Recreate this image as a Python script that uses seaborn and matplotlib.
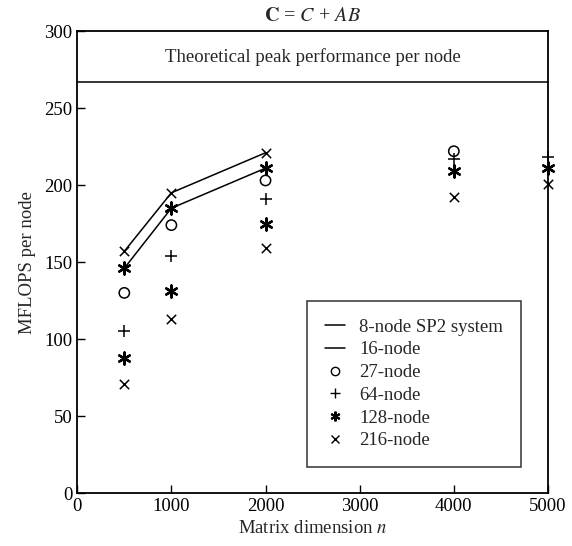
import pandas as pd
import matplotlib.pyplot as plt
import seaborn as sns
from matplotlib.lines import Line2D

# values
n_line = [500, 1000, 2000]
node8 = [157, 195, 221]
node16 = [146, 185, 211]

n_27 = [500, 1000, 2000, 4000]
node27 = [130, 174, 203, 222]
n_pts = [500, 1000, 2000, 4000, 5000]
node64 = [105, 154, 191, 217, 218]
node128 = [88, 131, 175, 209, 211]
node216 = [71, 113, 159, 192, 201]

peak = 267

sns.set_theme(style="ticks")
plt.rcParams["font.family"] = ["Liberation Serif", "DejaVu Serif"]
plt.rcParams["mathtext.fontset"] = "stix"
plt.rcParams["font.size"] = 13

asterisk = (6, 2, 0)

fig = plt.figure(figsize=(5.72, 5.46), dpi=100)
ax = fig.add_axes([0.135, 0.097, 0.823, 0.846])

# ── the two lines (8-node and 16-node) ─────────────────────
lines = pd.DataFrame({"n": n_line * 2,
                      "mflops": node8 + node16,
                      "system": ["8-node"] * 3 + ["16-node"] * 3})
sns.lineplot(data=lines, x="n", y="mflops", units="system", estimator=None,
             color="black", linewidth=1.1, ax=ax, legend=False)
sns.scatterplot(x=n_line, y=node8, marker="x", color="black", s=45,
                linewidth=1.1, ax=ax)
sns.scatterplot(x=n_line, y=node16, marker=asterisk, color="black", s=75,
                linewidth=1.7, ax=ax)

# ── the point series ───────────────────────────────────────
sns.scatterplot(x=n_27, y=node27, marker="o", facecolor="none",
                edgecolor="black", s=55, linewidth=1.1, ax=ax, clip_on=False)
sns.scatterplot(x=n_pts, y=node64, marker="+", color="black", s=80,
                linewidth=1.1, ax=ax, clip_on=False)
sns.scatterplot(x=n_pts, y=node128, marker=asterisk, color="black", s=75,
                linewidth=1.7, ax=ax, clip_on=False)
sns.scatterplot(x=n_pts, y=node216, marker="x", color="black", s=45,
                linewidth=1.1, ax=ax, clip_on=False)

# theoretical peak
ax.axhline(peak, color="black", linewidth=1.1)
ax.text(2500, 283, "Theoretical peak performance per node",
        ha="center", va="center", fontsize=13.5)

ax.set_xlim(0, 5000)
ax.set_ylim(0, 300)
ax.set_xticks([0, 1000, 2000, 3000, 4000, 5000])
ax.set_yticks([0, 50, 100, 150, 200, 250, 300])
ax.tick_params(direction="in", length=6, width=1, labelsize=13.5,
               colors="black")
for s in ax.spines.values():
    s.set_visible(True)
    s.set_linewidth(1.3)
    s.set_color("black")

ax.set_title(r"$\mathbf{C}$ = $C$ + $AB$", fontsize=14.5, pad=7)
ax.set_xlabel(r"Matrix dimension $n$", fontsize=13.5, labelpad=4)
ax.set_ylabel("MFLOPS per node", fontsize=13.5, labelpad=6)

handles = [
    Line2D([], [], color="black", linewidth=1.1),
    Line2D([], [], color="black", linewidth=1.1),
    Line2D([], [], color="black", marker="o", markerfacecolor="none",
           linestyle="none", markersize=6),
    Line2D([], [], color="black", marker="+", linestyle="none",
           markersize=7),
    Line2D([], [], color="black", marker=asterisk, linestyle="none",
           markersize=7, markeredgewidth=1.5),
    Line2D([], [], color="black", marker="x", linestyle="none",
           markersize=6),
]
labels = ["8-node SP2 system", "16-node", "27-node", "64-node",
          "128-node", "216-node"]
leg = ax.legend(handles, labels, loc="lower right",
                bbox_to_anchor=(0.943, 0.056), fontsize=13.5,
                frameon=True, fancybox=False, edgecolor="black",
                handlelength=1.1, handletextpad=0.75, borderpad=0.95,
                borderaxespad=0, labelspacing=0.3)
leg.get_frame().set_linewidth(1.1)

plt.savefig("out.png", dpi=100)
plt.close()
print("Chart saved")
